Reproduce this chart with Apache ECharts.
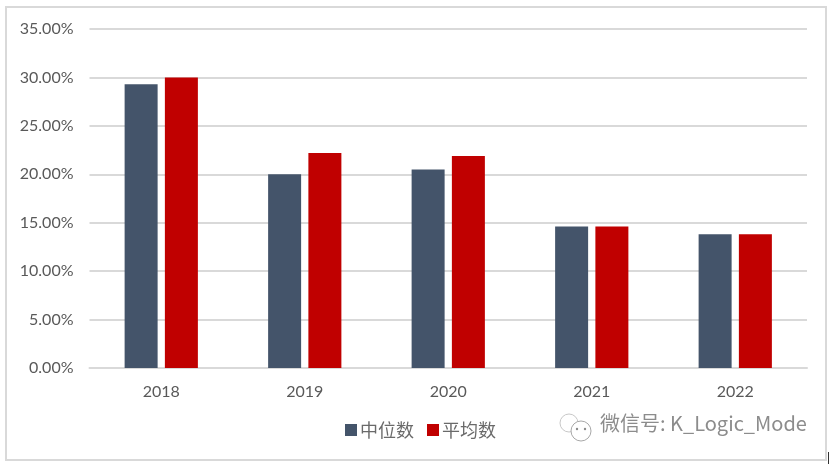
<!DOCTYPE html>
<html>
<head>
<meta charset="utf-8">
<style>
html,body{margin:0;padding:0;background:#fff}
#main{width:832px;height:464px}
</style>
<script src="https://cdn.jsdelivr.net/npm/echarts@6/dist/echarts.min.js"></script>
</head>
<body>
<div id="main"></div>
<script>
var years = ['2018', '2019', '2020', '2021', '2022'];
var median = [29.3, 20.0, 20.5, 14.6, 13.8];
var mean = [30.0, 22.2, 21.9, 14.6, 13.8];

var fontName = 'Lato,"Noto Sans CJK SC",sans-serif';
var cjkFont = '"Noto Sans CJK SC",sans-serif';
var myChart = echarts.init(document.getElementById('main'), null, {renderer: 'canvas'});

var option = {
    backgroundColor: '#fff',
    animation: false,
    textStyle: {fontFamily: fontName},
    grid: {left: 89.5, top: 29, width: 717.5, height: 339},
    legend: {
        left: 340, top: 416,
        itemWidth: 12, itemHeight: 12, itemGap: 13,
        icon: 'rect',
        textStyle: {color: '#6a6a6a', fontSize: 18, padding: [0, 0, 0, -2], fontFamily: cjkFont},
        data: ['中位数', '平均数']
    },
    xAxis: {
        type: 'category',
        data: years,
        axisTick: {show: false},
        axisLine: {lineStyle: {color: '#d9d9d9', width: 2}},
        axisLabel: {color: '#595959', fontSize: 16, margin: 16, fontFamily: fontName}
    },
    yAxis: {
        type: 'value',
        min: 0, max: 35, interval: 5,
        axisLine: {show: false},
        axisTick: {show: false},
        axisLabel: {
            color: '#595959', fontSize: 16, margin: 16, fontFamily: fontName,
            formatter: function (v) { return v.toFixed(2) + '%'; }
        },
        splitLine: {lineStyle: {color: '#d9d9d9', width: 2}}
    },
    series: [
        {name: '中位数', type: 'bar', data: median, barWidth: 33, barGap: '22%', itemStyle: {color: '#44546a'}},
        {name: '平均数', type: 'bar', data: mean, barWidth: 33, itemStyle: {color: '#c00000'}}
    ],
    graphic: [
        // chart frame
        {type: 'rect', z: -1, shape: {x: 6, y: 7, width: 820, height: 453},
            style: {fill: 'transparent', stroke: '#d9d9d9', lineWidth: 2}},
        // stray cursor mark bottom right
        {type: 'line', shape: {x1: 828.5, y1: 452, x2: 828.5, y2: 464}, style: {stroke: '#333', lineWidth: 1}},
        // watermark
        {type: 'circle', shape: {cx: 569, cy: 423, r: 9}, style: {fill: '#fff', stroke: '#c8c8c8', lineWidth: 1}},
        {type: 'circle', shape: {cx: 581, cy: 431, r: 10}, style: {fill: '#fff', stroke: '#a8a8a8', lineWidth: 1}},
        {type: 'circle', shape: {cx: 577, cy: 429, r: 1.2}, style: {fill: '#8c8c8c'}},
        {type: 'circle', shape: {cx: 585, cy: 429, r: 1.2}, style: {fill: '#8c8c8c'}},
        {type: 'text', left: 600, top: 413,
            style: {text: '微信号: K_Logic_Mode', fill: '#8c8c8c', fontSize: 20, fontFamily: cjkFont}}
    ]
};
myChart.setOption(option);
</script>
</body>
</html>
